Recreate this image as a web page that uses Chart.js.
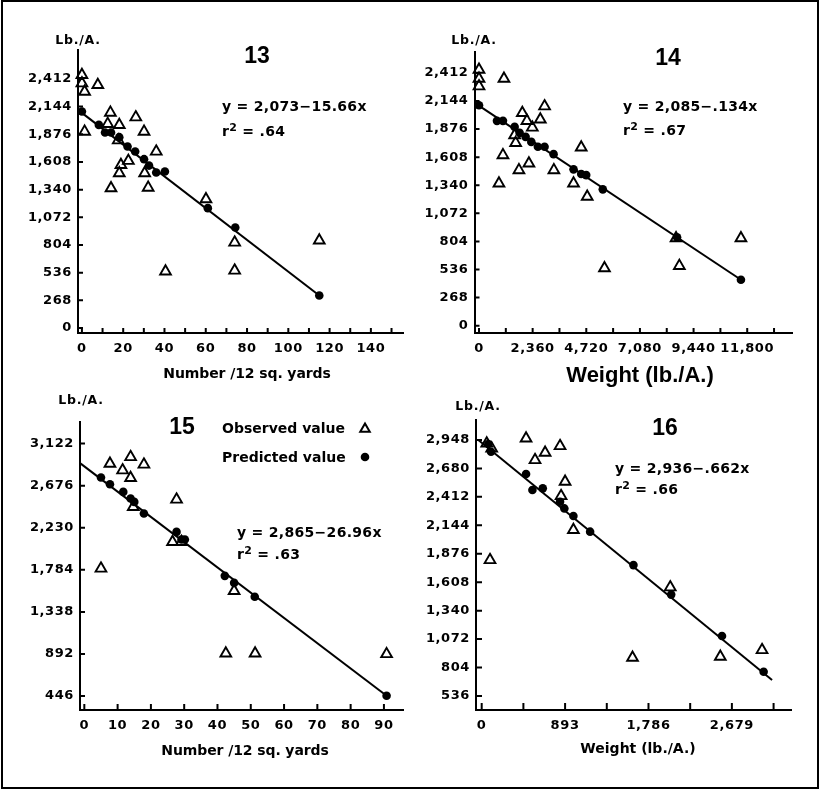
<!DOCTYPE html>
<html>
<head>
<meta charset="utf-8">
<script src="https://cdn.jsdelivr.net/npm/chart.js@4.4.1/dist/chart.umd.min.js"></script>
<style>
  body { margin: 0; background: #fff; }
  #page { position: relative; width: 823px; height: 791px; overflow: hidden; background: #fff; }
  #frame { position: absolute; left: 1px; top: 0; width: 818px; height: 789px; border: 2px solid #000; box-sizing: border-box; }
  canvas { position: absolute; }
  .t { position: absolute; white-space: nowrap; transform: translate(-50%, -50%); font-family: "DejaVu Sans"; font-weight: bold; color: #000; }
  .num { font-family: "Liberation Sans"; font-weight: bold; font-size: 23px; }
  .eq { position: absolute; white-space: nowrap; transform: translateY(-50%); font-family: "DejaVu Sans"; font-weight: bold; font-size: 14px; letter-spacing: 0.3px; color: #000; }
  .eq sup { font-size: 11px; }
  .leg { font-size: 14px; letter-spacing: 0; }
  .unit { font-size: 12.5px; letter-spacing: 0.8px; }
  .axt { font-size: 14px; letter-spacing: -0.1px; }
</style>
</head>
<body>
<div id="page">
  <div id="frame"></div>
  <canvas id="c13" style="left:0;top:0" width="412" height="392"></canvas>
  <canvas id="c14" style="left:412px;top:0" width="411" height="392"></canvas>
  <canvas id="c15" style="left:0;top:392px" width="412" height="399"></canvas>
  <canvas id="c16" style="left:412px;top:392px" width="411" height="399"></canvas>

  <div class="t unit" style="left:78px;top:39px">Lb./A.</div>
  <div class="t unit" style="left:474px;top:39px">Lb./A.</div>
  <div class="t unit" style="left:81px;top:399px">Lb./A.</div>
  <div class="t unit" style="left:478px;top:405px">Lb./A.</div>

  <div class="t num" style="left:257px;top:55px">13</div>
  <div class="t num" style="left:668px;top:57px">14</div>
  <div class="t num" style="left:182px;top:426px">15</div>
  <div class="t num" style="left:665px;top:427px">16</div>

  <div class="eq" style="left:222px;top:106px">y = 2,073−15.66x</div>
  <div class="eq" style="left:222px;top:130px">r<sup>2</sup> = .64</div>
  <div class="eq" style="left:623px;top:106px">y = 2,085−.134x</div>
  <div class="eq" style="left:623px;top:129px">r<sup>2</sup> = .67</div>
  <div class="eq" style="left:237px;top:532px">y = 2,865−26.96x</div>
  <div class="eq" style="left:237px;top:553px">r<sup>2</sup> = .63</div>
  <div class="eq" style="left:615px;top:468px">y = 2,936−.662x</div>
  <div class="eq" style="left:615px;top:488px">r<sup>2</sup> = .66</div>

  <div class="eq leg" style="left:222px;top:428px">Observed value</div>
  <div class="eq leg" style="left:222px;top:457px">Predicted value</div>

  <div class="t axt" style="left:247px;top:373px">Number /12 sq. yards</div>
  <div class="t" style="left:640px;top:375px;font-family:'Liberation Sans';font-size:22px">Weight (lb./A.)</div>
  <div class="t axt" style="left:245px;top:750px">Number /12 sq. yards</div>
  <div class="t" style="left:638px;top:748px;font-size:14px">Weight (lb./A.)</div>
</div>

<script>
// panel 13: number / 12 sq. yards
const obsX13 = [0, 0, 1.3, 7.7, 1.3, 13.8, 12.5, 18.1, 26.1, 30.1, 17.6, 18.9, 18.1, 22.5, 14.1, 30.4, 32.1, 36, 60.1, 74, 74, 40.5, 115];
const obsY13 = [2451, 2370, 2289, 2354, 1902, 2086, 1977, 1967, 2041, 1902, 1818, 1580, 1500, 1619, 1354, 1500, 1360, 1709, 1248, 828, 557, 548, 848];
const predX13 = [0, 8.2, 11.2, 14.1, 18.1, 22.1, 25.8, 30.1, 32.5, 36, 40.2, 61, 74.3, 115];
const predY13 = [2096, 1967, 1893, 1893, 1848, 1757, 1709, 1635, 1573, 1506, 1515, 1161, 973, 315];
const fitX13 = [-1.9, 115];
const fitY13 = [2112, 315];
const xTicks13 = [0, 10, 20, 30, 40, 50, 60, 70, 80, 90, 100, 110, 120, 130, 140, 150];
const xLabels13 = [0, 20, 40, 60, 80, 100, 120, 140];
const yTicks13 = [0, 268, 536, 804, 1072, 1340, 1608, 1876, 2144, 2412];

// panel 14: weight
const obsX14 = [0, 0, 0, 1098, 2885, 1906, 2108, 2697, 2345, 1568, 1612, 1054, 4497, 878, 1757, 2196, 3294, 4159, 4761, 5520, 8814, 8669, 11524];
const obsY14 = [2444, 2358, 2285, 2358, 2094, 2031, 1955, 1968, 1891, 1818, 1745, 1628, 1701, 1358, 1485, 1549, 1485, 1358, 1231, 549, 571, 835, 835];
const predX14 = [0, 791, 1054, 1568, 1787, 2051, 2301, 2591, 2885, 3281, 4159, 4497, 4716, 5446, 8713, 11524];
const predY14 = [2104, 1955, 1955, 1897, 1840, 1802, 1754, 1707, 1707, 1637, 1492, 1447, 1437, 1301, 844, 438];
const fitX14 = [-189, 11524];
const fitY14 = [2126, 438];
const xTicks14 = [0, 1180, 2360, 3540, 4720, 5900, 7080, 8260, 9440, 10620, 11800, 12980];
const xLabels14 = [0, 2360, 4720, 7080, 9440, 11800];
const yTicks14 = [0, 268, 536, 804, 1072, 1340, 1608, 1876, 2144, 2412];

// panel 15: number / 12 sq. yards
const obsX15 = [7.7, 13.9, 11.5, 17.9, 13.9, 27.7, 14.7, 26.5, 29.2, 5, 45, 42.5, 51.3, 90.8];
const obsY15 = [2910, 2980, 2839, 2900, 2758, 2529, 2451, 2080, 2080, 1798, 1561, 898, 898, 891];
const predX15 = [5, 7.7, 11.7, 13.9, 15, 17.9, 27.7, 29.2, 30.2, 42.2, 45, 51.2, 90.8];
const predY15 = [2762, 2691, 2610, 2540, 2504, 2381, 2186, 2106, 2106, 1720, 1646, 1498, 449];
const fitX15 = [-1.3, 90.8];
const fitY15 = [2915, 449];
const xTicks15 = [0, 10, 20, 30, 40, 50, 60, 70, 80, 90];
const xLabels15 = [0, 10, 20, 30, 40, 50, 60, 70, 80, 90];
const yTicks15 = [446, 892, 1338, 1784, 2230, 2676, 3122];

// panel 16: weight
const obsX16 = [54, 107, 475, 571, 679, 839, 893, 850, 982, 89, 2019, 1615, 2555, 3002];
const obsY16 = [2916, 2869, 2963, 2759, 2828, 2891, 2555, 2420, 2100, 1817, 1560, 897, 906, 969];
const predX16 = [71, 100, 475, 543, 654, 839, 885, 982, 1161, 1625, 2029, 2573, 3019];
const predY16 = [2910, 2837, 2627, 2477, 2492, 2366, 2303, 2231, 2084, 1769, 1491, 1101, 765];
const fitX16 = [-36, 3109];
const fitY16 = [2948, 687];
const xTicks16 = [0, 446.5, 893, 1339.5, 1786, 2232.5, 2679, 3125.5];
const xLabels16 = [0, 893, 1786, 2679];
const yTicks16 = [536, 804, 1072, 1340, 1608, 1876, 2144, 2412, 2680, 2948];

function pts(xs, ys) {
    return xs.map((x, i) => ({ x: x, y: ys[i] }));
}

function fmt(v) {
    return v.toLocaleString("en-US");
}

// tick marks drawn inward from the two axes
const innerTicks = {
    id: "innerTicks",
    beforeLayout(chart) { chart.ctx.letterSpacing = "0.6px"; },
    beforeDraw(chart) { chart.ctx.letterSpacing = "0.6px"; },
    afterDatasetsDraw(chart, args, opts) {
        const { ctx, chartArea: a, scales: { x, y } } = chart;
        ctx.save();
        ctx.strokeStyle = "#000";
        ctx.lineWidth = 2;
        ctx.beginPath();
        x.ticks.forEach(t => {
            const px = x.getPixelForValue(t.value);
            ctx.moveTo(px, a.bottom);
            ctx.lineTo(px, a.bottom - opts.xLen);
        });
        y.ticks.forEach(t => {
            const py = y.getPixelForValue(t.value);
            ctx.moveTo(a.left, py);
            ctx.lineTo(a.left + opts.yLen, py);
        });
        ctx.stroke();
        ctx.restore();
    }
};

// legend markers for panel 15
const legendMarks = {
    id: "legendMarks",
    afterDraw(chart, args, opts) {
        if (!opts.items) return;
        const ctx = chart.ctx;
        ctx.save();
        ctx.strokeStyle = "#000";
        ctx.fillStyle = "#000";
        ctx.lineWidth = 2;
        opts.items.forEach(it => {
            ctx.beginPath();
            if (it.style === "triangle") {
                for (let k = 0; k < 3; k++) {
                    const rad = k * 2 * Math.PI / 3;
                    const px = it.x + Math.sin(rad) * it.r;
                    const py = it.y - Math.cos(rad) * it.r;
                    if (k === 0) ctx.moveTo(px, py); else ctx.lineTo(px, py);
                }
                ctx.closePath();
                ctx.stroke();
            } else {
                ctx.arc(it.x, it.y, it.r, 0, Math.PI * 2);
                ctx.fill();
            }
        });
        ctx.restore();
    }
};

function makePanel(id, p) {
    const ctx = document.getElementById(id).getContext("2d");
    return new Chart(ctx, {
        type: "scatter",
        data: {
            datasets: [{
                label: "Regression",
                data: pts(p.fitX, p.fitY),
                showLine: true,
                borderColor: "#000",
                borderWidth: 2,
                pointRadius: 0,
                clip: false
            }, {
                label: "Observed value",
                data: pts(p.obsX, p.obsY),
                pointStyle: "triangle",
                pointRadius: 6.2,
                pointBorderWidth: 1.9,
                borderColor: "#000",
                backgroundColor: "rgba(0,0,0,0)",
                clip: false
            }, {
                label: "Predicted value",
                data: pts(p.predX, p.predY),
                pointStyle: "circle",
                pointRadius: 4.3,
                borderWidth: 0,
                backgroundColor: "#000",
                clip: false
            }]
        },
        options: {
            responsive: false,
            animation: false,
            layout: { padding: p.pad },
            plugins: {
                legend: { display: false },
                tooltip: { enabled: false },
                innerTicks: { xLen: p.xLen, yLen: p.yLen },
                legendMarks: { items: p.legend }
            },
            scales: {
                x: {
                    type: "linear",
                    min: p.xMin,
                    max: p.xMax,
                    afterBuildTicks: s => { s.ticks = p.xTicks.map(v => ({ value: v })); },
                    afterFit: s => { s.height = p.xH; },
                    grid: { display: true, drawOnChartArea: false, drawTicks: false },
                    border: { display: true, color: "#000", width: 2 },
                    ticks: {
                        autoSkip: false,
                        maxRotation: 0,
                        padding: 8,
                        color: "#000",
                        font: { family: "DejaVu Sans", size: 13, weight: "bold" },
                        callback: v => p.xLabels.includes(v) ? fmt(v) : ""
                    }
                },
                y: {
                    type: "linear",
                    min: p.yMin,
                    max: p.yMax,
                    afterBuildTicks: s => { s.ticks = p.yTicks.map(v => ({ value: v })); },
                    afterFit: s => { s.width = p.yW; },
                    grid: { display: true, drawOnChartArea: false, drawTicks: false },
                    border: { display: true, color: "#000", width: 2 },
                    ticks: {
                        autoSkip: false,
                        padding: 6,
                        color: "#000",
                        font: { family: "DejaVu Sans", size: 13, weight: "bold" },
                        callback: v => fmt(v)
                    }
                }
            }
        },
        plugins: [innerTicks, legendMarks]
    });
}

makePanel("c13", {
    obsX: obsX13, obsY: obsY13, predX: predX13, predY: predY13, fitX: fitX13, fitY: fitY13,
    xTicks: xTicks13, xLabels: xLabels13, yTicks: yTicks13,
    xMin: -1.9, xMax: 156, yMin: -48, yMax: 2692,
    pad: { left: 0, top: 50, right: 4, bottom: 0 }, yW: 78, xH: 59, xLen: 5, yLen: 5
});

makePanel("c14", {
    obsX: obsX14, obsY: obsY14, predX: predX14, predY: predY14, fitX: fitX14, fitY: fitY14,
    xTicks: xTicks14, xLabels: xLabels14, yTicks: yTicks14,
    xMin: -198, xMax: 13770, yMin: -70, yMax: 2612,
    pad: { left: 0, top: 52, right: 31, bottom: 0 }, yW: 62.5, xH: 59, xLen: 5, yLen: 5
});

makePanel("c15", {
    obsX: obsX15, obsY: obsY15, predX: predX15, predY: predY15, fitX: fitX15, fitY: fitY15,
    xTicks: xTicks15, xLabels: xLabels15, yTicks: yTicks15,
    xMin: -1.3, xMax: 96, yMin: 298, yMax: 3351,
    pad: { left: 0, top: 30, right: 8, bottom: 0 }, yW: 80, xH: 81, xLen: 6, yLen: 5,
    legend: [{ style: "triangle", x: 365, y: 37, r: 5.5 }, { style: "circle", x: 365, y: 65, r: 4.3 }]
});

makePanel("c16", {
    obsX: obsX16, obsY: obsY16, predX: predX16, predY: predY16, fitX: fitX16, fitY: fitY16,
    xTicks: xTicks16, xLabels: xLabels16, yTicks: yTicks16,
    xMin: -61, xMax: 3312, yMin: 404, yMax: 3136,
    pad: { left: 0, top: 28, right: 32, bottom: 0 }, yW: 64, xH: 81, xLen: 7, yLen: 6
});
</script>
</body>
</html>
